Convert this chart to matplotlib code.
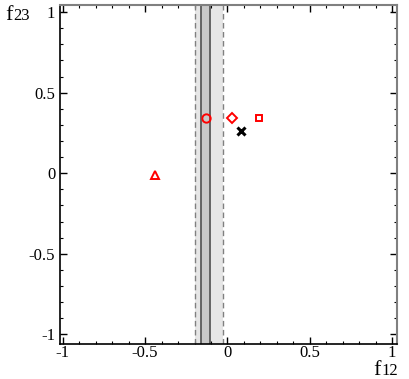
import matplotlib
matplotlib.use("Agg")
import matplotlib.pyplot as plt
from matplotlib.ticker import MultipleLocator

# band limits (f12)
band_outer = [-0.20, -0.03]
band_inner = [-0.158, -0.107]

# points: (f12, f23, marker)
pts_x = [-0.13, 0.028, 0.19, -0.44]
pts_y = [0.345, 0.345, 0.345, -0.01]
pts_m = ['o', 'D', 's', '^']
cross_x = [0.08]
cross_y = [0.265]

xticks = [-1, -0.5, 0, 0.5, 1]
yticks = [-1, -0.5, 0, 0.5, 1]
ticklabels = ['-1', '-0.5', '0', '0.5', '1']

plt.rcParams['font.family'] = ['Liberation Serif', 'DejaVu Serif']

fig = plt.figure(figsize=(4.09, 3.79), dpi=100)
ax = fig.add_axes([0.1455, 0.0925, 0.9707 - 0.1455, 0.987 - 0.0925])

ax.axvspan(band_outer[0], band_outer[1], color='#e6e6e6', lw=0, zorder=1)
ax.axvspan(band_inner[0], band_inner[1], color='#c8c8c8', lw=0, zorder=1)
for x in band_outer:
    ax.axvline(x, color='#808080', lw=1, ls=(0, (4, 2.5)), zorder=2)
for x in band_inner:
    ax.axvline(x, color='#5a5a5a', lw=1.3, zorder=2)

for x, y, m in zip(pts_x, pts_y, pts_m):
    ms = 5.5 if m == 'D' else 6
    if m == 's':
        ms = 5
    ax.plot(x, y, marker=m, ms=ms, mfc='none', mec='red', mew=1.4, ls='none', zorder=3)
ax.plot(cross_x, cross_y, marker='x', ms=6, mec='black', mew=2.2, ls='none', zorder=3)

ax.set_xlim(-1.02, 1.03)
ax.set_ylim(-1.06, 1.045)
ax.set_xticks(xticks)
ax.set_xticklabels(ticklabels)
ax.set_yticks(yticks)
ax.set_yticklabels(ticklabels)
ax.xaxis.set_minor_locator(MultipleLocator(0.1))
ax.yaxis.set_minor_locator(MultipleLocator(0.1))
ax.tick_params(which='both', direction='in', top=True, right=True, labelsize=12)
ax.tick_params(axis='x', pad=1)
ax.tick_params(axis='y', pad=3)
ax.tick_params(which='major', length=5, width=1)
ax.tick_params(which='minor', length=2.5, width=0.8)

for s in ['left', 'bottom']:
    ax.spines[s].set_color('black')
    ax.spines[s].set_linewidth(1.2)
for s in ['top', 'right']:
    ax.spines[s].set_color('#808080')
    ax.spines[s].set_linewidth(1.5)


def sub_label(x, y, digits):
    # "f" followed by smaller digits on the same baseline
    t = fig.text(x, y, 'f', fontsize=16, ha='left', va='baseline')
    r = fig.canvas.get_renderer()
    bb = t.get_window_extent(renderer=r)
    fig.text(bb.x1 / fig.bbox.width + 0.002, y, digits, fontsize=12,
             ha='left', va='baseline')


sub_label(0.912, 0.010, '12')
sub_label(0.012, 0.948, '23')

fig.savefig('out.png', dpi=100)
